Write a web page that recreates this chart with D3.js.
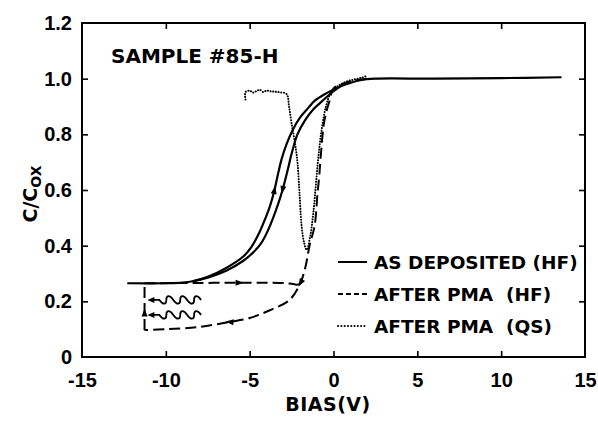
<!DOCTYPE html>
<html>
<head>
<meta charset="utf-8">
<script src="https://cdn.jsdelivr.net/npm/d3@7/dist/d3.min.js"></script>
<style>
  html, body { margin: 0; padding: 0; background: #fff; }
  svg { display: block; }
  .lbl { font-family: "DejaVu Sans", sans-serif; font-weight: bold; fill: #000; }
  .num { font-family: "Liberation Sans", Arial, sans-serif; font-weight: bold; fill: #000; }
</style>
</head>
<body>
<svg id="chart" width="598" height="421"></svg>
<script>
// ---- axes ----
const xTicks = [-15, -10, -5, 0, 5, 10, 15];
const xTickLabels = ["-15", "-10", "-5", "0", "5", "10", "15"];
const yTicks = [0, 0.2, 0.4, 0.6, 0.8, 1.0, 1.2];
const yTickLabels = ["0", "0.2", "0.4", "0.6", "0.8", "1.0", "1.2"];

// ---- C/Cox vs bias, [V, C/Cox] ----
// as deposited (HF): two sweep branches of the hysteresis loop
const asDepBranchA = [[-12.3,0.265],[-10,0.265],[-9,0.267],[-8.4,0.272],[-7.5,0.288],[-6.4,0.32],[-5.4,0.36],[-4.9,0.395],[-4.4,0.45],[-4.05,0.50],[-3.8,0.54],[-3.52,0.60],[-3.3,0.66],[-3.1,0.71],[-2.8,0.765],[-2.44,0.815],[-2.0,0.86],[-1.5,0.895],[-1.13,0.92],[-0.5,0.945],[0,0.96],[0.4,0.972],[1,0.985],[1.6,0.995],[2.5,1.0],[6,1.0],[10,1.002],[13.6,1.005]];
const asDepBranchB = [[-8.4,0.272],[-7.5,0.285],[-6.4,0.31],[-5.4,0.345],[-4.8,0.375],[-4.3,0.41],[-3.9,0.456],[-3.6,0.50],[-3.3,0.55],[-3.04,0.60],[-2.74,0.67],[-2.5,0.73],[-2.15,0.80],[-1.7,0.85],[-1.2,0.89],[-0.66,0.92],[-0.2,0.945],[0.4,0.972]];
// after PMA (HF): sweep into deep depletion, hold under light, sweep back
const pmaHFSweep = [[2,1.0],[1,0.99],[0.5,0.98],[0,0.965],[-0.24,0.92],[-0.54,0.85],[-0.78,0.707],[-0.85,0.65],[-0.95,0.59],[-1.13,0.47],[-1.43,0.40],[-1.65,0.33],[-1.97,0.266],[-2.62,0.205],[-3.8,0.168],[-5.0,0.14],[-6.2,0.126],[-8.0,0.108],[-10,0.10],[-11.27,0.097]];
const pmaHFHold = [[-11.27,0.097],[-11.27,0.265]];
const pmaHFReturn = [[-11.27,0.265],[-8,0.266],[-5,0.267],[-3.2,0.266],[-2.6,0.264],[-2.2,0.26],[-1.97,0.262]];
// after PMA (QS)
const pmaQS = [[-5.25,0.925],[-5.25,0.952],[-5.0,0.957],[-4.8,0.95],[-4.6,0.955],[-4.4,0.96],[-4.2,0.952],[-4.0,0.957],[-3.8,0.955],[-3.5,0.953],[-3.2,0.951],[-2.8,0.945],[-2.65,0.90],[-2.5,0.84],[-2.3,0.77],[-2.15,0.70],[-2.03,0.59],[-1.9,0.47],[-1.75,0.41],[-1.6,0.385],[-1.4,0.43],[-1.2,0.52],[-1.05,0.62],[-0.9,0.72],[-0.7,0.82],[-0.45,0.9],[-0.15,0.95],[0.3,0.975],[0.8,0.99],[1.3,0.998],[1.7,1.004],[2.0,1.01]];

// sweep direction arrowheads: [V, C, direction in degrees (0 = +V, 90 = down)]
const sweepArrows = [[-3.52,0.60,-78],[-3.04,0.60,102],[-6.2,0.126,185],[-11.27,0.16,-90],[-5.6,0.267,0],[-1.97,0.266,120]];
// illumination marks (wavy arrows) at [V start, V tip, C]
const lightMarks = [[-7.9,-11.1,0.205],[-7.9,-11.1,0.151]];

const legendItems = [
  {label: "AS DEPOSITED (HF)", dash: null},
  {label: "AFTER PMA  (HF)", dash: "5,3"},
  {label: "AFTER PMA  (QS)", dash: "0.1,3.2"}
];

// ---- layout ----
const svg = d3.select("#chart");
const x = d3.scaleLinear().domain([-15, 15]).range([82, 585]);
const y = d3.scaleLinear().domain([0, 1.2]).range([357, 23]);
const line = d3.line().x(d => x(d[0])).y(d => y(d[1])).curve(d3.curveCatmullRom.alpha(0.5));

const inner = xTicks.slice(1, -1);
const innerY = yTicks.slice(1, -1);

// bottom axis with labels, inward ticks
const gx = svg.append("g").attr("transform", `translate(0,${y(0)})`)
  .call(d3.axisBottom(x).tickValues(xTicks).tickFormat((d, i) => xTickLabels[i]).tickSizeInner(-6).tickSizeOuter(0).tickPadding(16));
// left axis with labels
const gy = svg.append("g").attr("transform", `translate(${x(-15)},0)`)
  .call(d3.axisLeft(y).tickValues(yTicks).tickFormat((d, i) => yTickLabels[i]).tickSizeInner(-6).tickSizeOuter(0).tickPadding(10));
// top and right: ticks only
const gt = svg.append("g").attr("transform", `translate(0,${y(1.2)})`)
  .call(d3.axisTop(x).tickValues(inner).tickFormat("").tickSizeInner(-6).tickSizeOuter(0));
const gr = svg.append("g").attr("transform", `translate(${x(15)},0)`)
  .call(d3.axisRight(y).tickValues(innerY).tickFormat("").tickSizeInner(-6).tickSizeOuter(0));

[gx, gy, gt, gr].forEach(g => {
  g.select(".domain").remove();
  g.selectAll(".tick line").attr("stroke", "#000").attr("stroke-width", 1.6);
  g.selectAll(".tick text").attr("class", "num").attr("font-size", 20).attr("fill", "#000");
});
gx.selectAll(".tick").filter(d => d === -15 || d === 15).select("line").remove();
gy.selectAll(".tick").filter(d => d === 0 || d === 1.2).select("line").remove();

// frame
svg.append("rect")
  .attr("x", x(-15)).attr("y", y(1.2))
  .attr("width", x(15) - x(-15)).attr("height", y(0) - y(1.2))
  .attr("fill", "none").attr("stroke", "#000").attr("stroke-width", 2);

// curves
const plot = svg.append("g").attr("fill", "none").attr("stroke", "#000").attr("stroke-linecap", "butt");
plot.append("path").attr("d", line(asDepBranchA)).attr("stroke-width", 2.2);
plot.append("path").attr("d", line(asDepBranchB)).attr("stroke-width", 2.2);
[pmaHFSweep, pmaHFHold, pmaHFReturn].forEach(s => {
  plot.append("path").attr("d", line(s)).attr("stroke-width", 2).attr("stroke-dasharray", "11,5");
});
plot.append("path").attr("d", line(pmaQS)).attr("stroke-width", 2).attr("stroke-linecap", "round").attr("stroke-dasharray", "0.1,2.6");

// arrowheads
svg.append("g").selectAll("path").data(sweepArrows).join("path")
  .attr("d", "M4,0 L-4,-3 L-4,3 Z")
  .attr("transform", d => `translate(${x(d[0])},${y(d[1])}) rotate(${d[2]})`)
  .attr("fill", "#000");

// wavy light arrows
const lg = svg.append("g").attr("fill", "none").attr("stroke", "#000").attr("stroke-width", 1.8);
lightMarks.forEach(m => {
  const x0 = x(m[0]), x1 = x(m[1]), yy = y(m[2]);
  const p = d3.path();
  p.moveTo(x0, yy);
  const humps = 3, waveLen = (x0 - (x1 + 12)) / humps;
  let cx = x0;
  for (let i = 0; i < humps; i++) {
    p.bezierCurveTo(cx - waveLen * 0.25, yy - 5, cx - waveLen * 0.5, yy - 5, cx - waveLen * 0.5, yy);
    p.bezierCurveTo(cx - waveLen * 0.5, yy + 5, cx - waveLen * 0.75, yy + 5, cx - waveLen, yy);
    cx -= waveLen;
  }
  p.lineTo(x1 + 5, yy);
  lg.append("path").attr("d", p.toString());
  svg.append("path").attr("d", "M0,0 L7,-3 L7,3 Z").attr("transform", `translate(${x1},${yy})`).attr("fill", "#000");
});

// title
svg.append("text").attr("class", "lbl").attr("x", 111).attr("y", 63)
  .attr("font-size", 20).text("SAMPLE #85-H");

// axis titles
svg.append("text").attr("class", "lbl").attr("x", 328).attr("y", 411)
  .attr("text-anchor", "middle").attr("font-size", 19).attr("letter-spacing", 0.5).text("BIAS(V)");
const yl = svg.append("text").attr("class", "lbl").attr("transform", "translate(37,194) rotate(-90)")
  .attr("text-anchor", "middle").attr("font-size", 19);
yl.append("tspan").text("C/C");
yl.append("tspan").attr("font-size", 14).attr("dy", 4).text("OX");

// legend
const leg = svg.append("g");
legendItems.forEach((it, i) => {
  const yy = 262 + i * 32;
  const ln = leg.append("line").attr("x1", 338).attr("x2", 367).attr("y1", yy).attr("y2", yy)
    .attr("stroke", "#000").attr("stroke-width", 2);
  if (it.dash) ln.attr("stroke-dasharray", it.dash);
  if (i === 2) ln.attr("stroke-linecap", "round");
  leg.append("text").attr("class", "lbl").attr("x", 374).attr("y", yy + 7)
    .attr("font-size", 18.5).attr("xml:space", "preserve").style("white-space", "pre").text(it.label);
});
</script>
</body>
</html>
